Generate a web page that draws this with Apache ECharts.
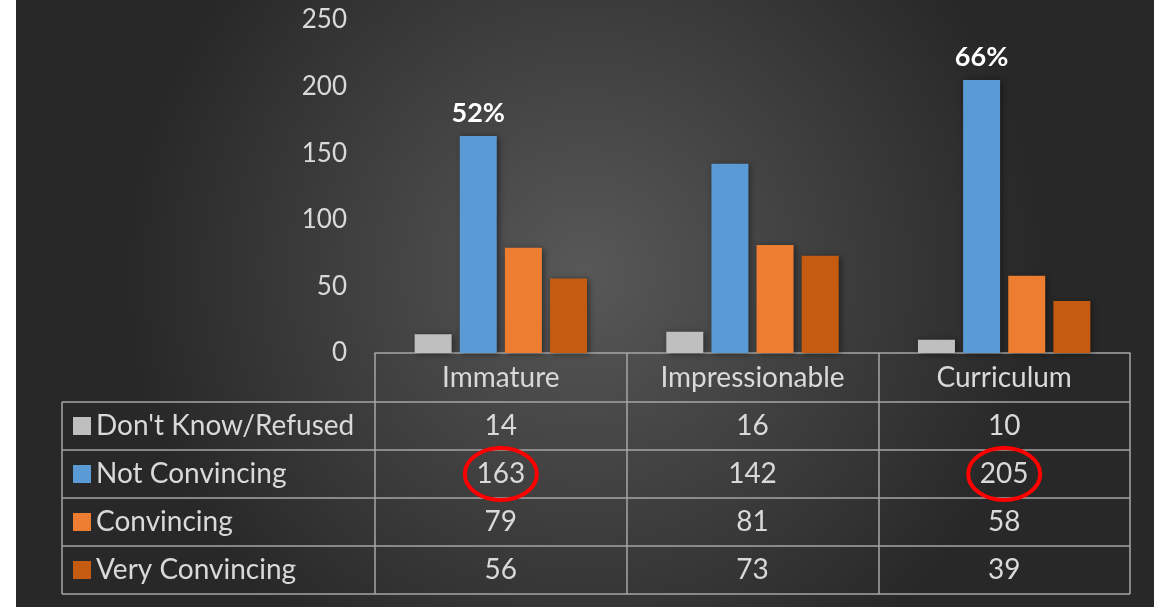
<!DOCTYPE html>
<html>
<head>
<meta charset="utf-8">
<script src="https://cdn.jsdelivr.net/npm/echarts@6/dist/echarts.min.js"></script>
<style>
html, body { margin: 0; padding: 0; background: #fff; }
#chart { position: absolute; left: 16px; top: 0; width: 1138px; height: 607px; }
</style>
</head>
<body>
<div id="chart"></div>
<script>
// values
const categories = ['Immature', 'Impressionable', 'Curriculum'];
const dontKnow = [14, 16, 10];
const notConvincing = [163, 142, 205];
const convincing = [79, 81, 58];
const veryConvincing = [56, 73, 39];
const notConvincingPct = ['52%', '', '66%'];
const yTicks = [0, 50, 100, 150, 200, 250];
// table cells that carry a red ring: [category, row]
const circled = [['Immature', 1], ['Curriculum', 1]];

const FONT = 'Lato, "Noto Sans", sans-serif';
const TXT = '#d9d9d9';
const LINE = '#a6a6a6';
const HEAD_H = 49, ROW_H = 48;

const rows = [
    { name: "Don't Know/Refused", data: dontKnow, color: '#bfbfbf' },
    { name: 'Not Convincing', data: notConvincing, color: '#5b9bd5' },
    { name: 'Convincing', data: convincing, color: '#ed7d31' },
    { name: 'Very Convincing', data: veryConvincing, color: '#c55a11' }
];

const chart = echarts.init(document.getElementById('chart'));

const option = {
    backgroundColor: {
        type: 'radial', x: 0.5, y: 0.45, r: 0.75,
        colorStops: [
            { offset: 0, color: '#585858' },
            { offset: 1, color: '#282828' }
        ]
    },
    textStyle: { fontFamily: FONT },
    animation: false,
    grid: { left: 359, right: 24, top: 20, bottom: 254 },
    legend: {
        orient: 'vertical',
        left: 57,
        top: 411,
        padding: 0,
        itemWidth: 18,
        itemHeight: 18,
        itemGap: 18,
        icon: 'rect',
        selectedMode: false,
        textStyle: { color: TXT, fontSize: 28, lineHeight: 30, fontFamily: FONT },
        data: rows.map(r => r.name)
    },
    xAxis: {
        type: 'category',
        data: categories,
        axisLine: { lineStyle: { color: LINE, width: 1.5 } },
        axisTick: { show: true, length: HEAD_H + ROW_H * 4, lineStyle: { color: LINE, width: 1.5 } },
        axisLabel: {
            margin: 0,
            interval: 0,
            formatter: function (value, idx) {
                let s = '{h|' + value + '}';
                rows.forEach(r => { s += '\n{v|' + r.data[idx] + '}'; });
                return s;
            },
            rich: {
                h: { fontSize: 28, lineHeight: HEAD_H, color: TXT, fontFamily: FONT },
                v: { fontSize: 28, lineHeight: ROW_H, color: TXT, fontFamily: FONT }
            }
        }
    },
    yAxis: {
        type: 'value',
        min: yTicks[0],
        max: yTicks[yTicks.length - 1],
        interval: 50,
        axisLine: { show: false },
        axisTick: { show: false },
        splitLine: { show: false },
        axisLabel: { color: TXT, fontSize: 26, margin: 28, fontFamily: FONT }
    },
    series: rows.map((r, i) => ({
        name: r.name,
        type: 'bar',
        data: r.data,
        barWidth: 37,
        barGap: '22%',
        itemStyle: {
            color: r.color,
            shadowBlur: 6,
            shadowColor: 'rgba(0,0,0,0.45)',
            shadowOffsetX: 2,
            shadowOffsetY: 1
        },
        label: i === 1 ? {
            show: true,
            position: 'top',
            distance: 9,
            color: '#ffffff',
            fontWeight: 'bold',
            fontSize: 27,
            fontFamily: FONT,
            formatter: p => notConvincingPct[p.dataIndex]
        } : { show: false }
    }))
};

chart.setOption(option);

// table grid lines and red rings, placed from the axis scales
const cx = categories.map(c => chart.convertToPixel({ xAxisIndex: 0 }, c));
const band = cx[1] - cx[0];
const xRight = cx[cx.length - 1] + band / 2;
const y0 = chart.convertToPixel({ yAxisIndex: 0 }, 0);
const tableLeft = 46;
const lineStyle = { stroke: LINE, lineWidth: 1.5 };

const graphics = [];
for (let i = 0; i <= rows.length; i++) {
    const y = y0 + HEAD_H + ROW_H * i;
    graphics.push({ type: 'line', shape: { x1: tableLeft, y1: y, x2: xRight, y2: y }, style: lineStyle, z: 10 });
}
graphics.push({
    type: 'line',
    shape: { x1: tableLeft, y1: y0 + HEAD_H, x2: tableLeft, y2: y0 + HEAD_H + ROW_H * rows.length },
    style: lineStyle, z: 10
});
circled.forEach(([cat, row]) => {
    const x = chart.convertToPixel({ xAxisIndex: 0 }, cat);
    const y = y0 + HEAD_H + ROW_H * row + ROW_H / 2;
    graphics.push({
        type: 'ellipse',
        shape: { cx: x, cy: y, rx: 36, ry: 26 },
        style: { fill: null, stroke: '#ff0000', lineWidth: 4 },
        z: 20
    });
});

chart.setOption({ graphic: graphics });
</script>
</body>
</html>
